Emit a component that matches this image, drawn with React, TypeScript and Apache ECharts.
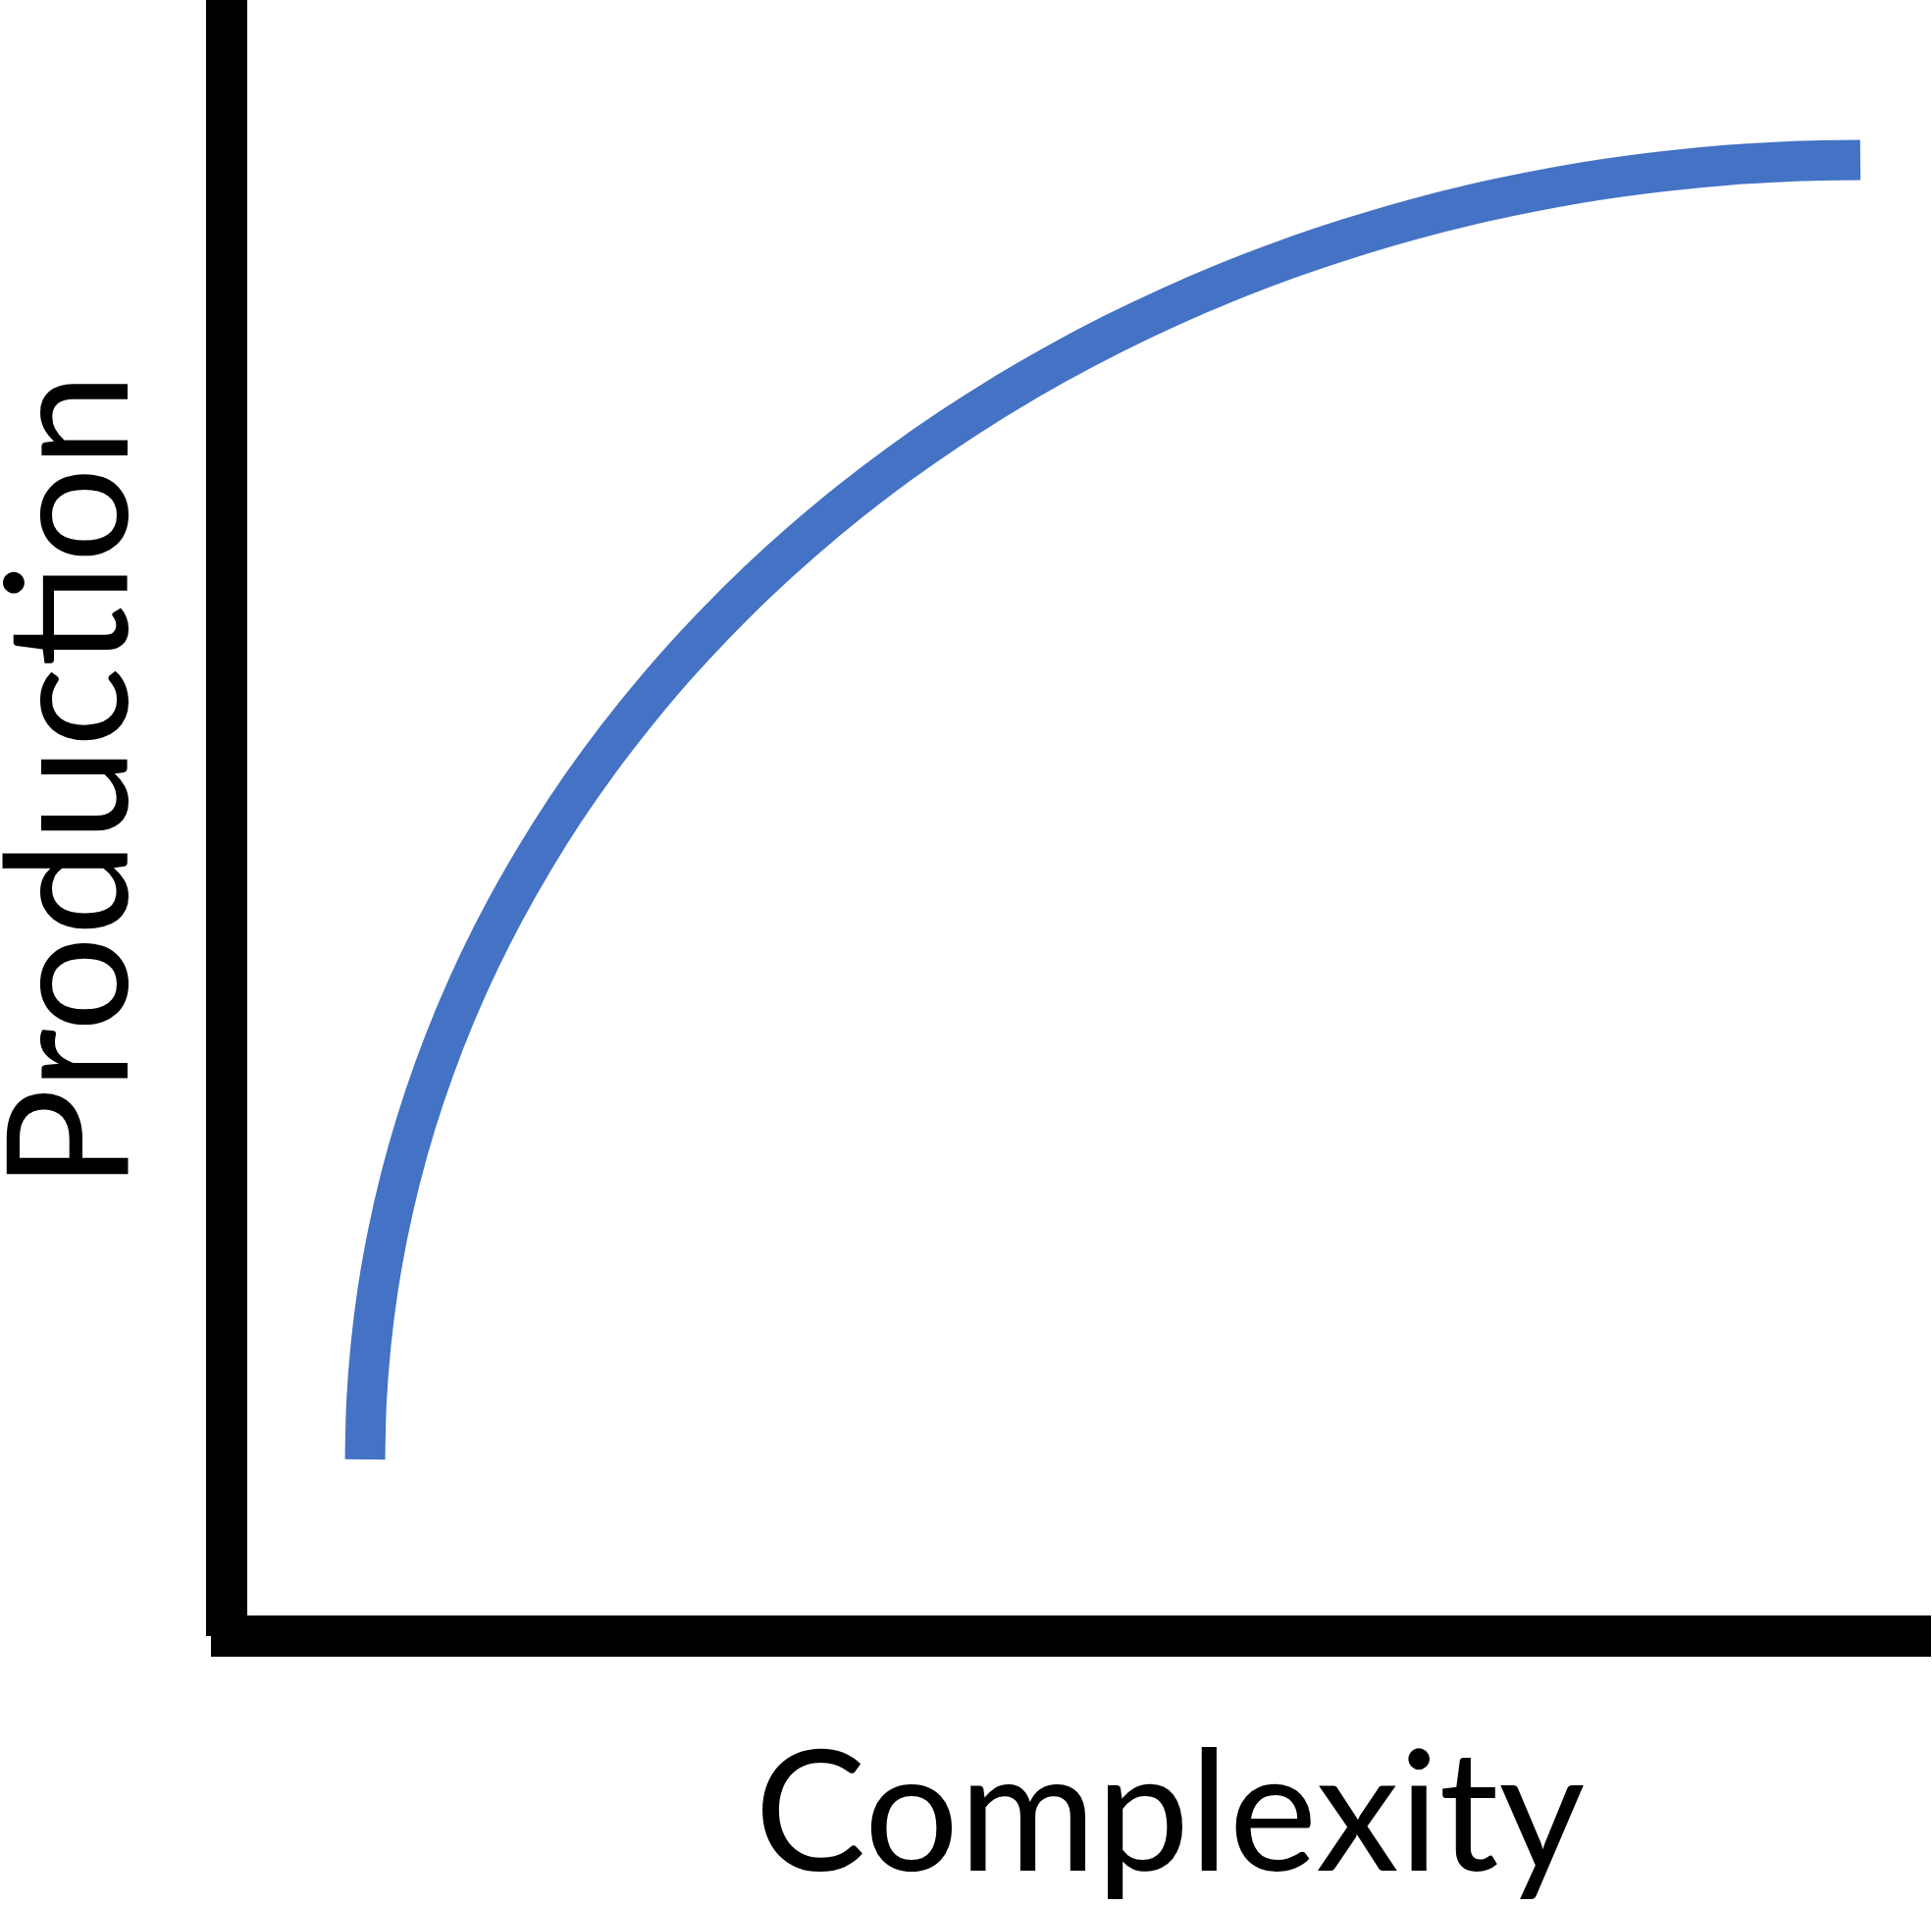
import React, { useEffect, useRef } from "react";
import * as echarts from "echarts";

// Curve (x: complexity, y: production, axis scale 0–100)
const complexity = [
  8.96, 9.04, 9.29, 9.7, 10.28, 11.02, 11.92, 12.98, 14.2, 15.57, 17.1, 18.78,
  20.6, 22.57, 24.68, 26.92, 29.3, 31.8, 34.42, 37.16, 40.01, 42.97, 46.03, 49.18,
  52.42, 55.75, 59.15, 62.62, 66.16, 69.75, 73.39, 77.08, 80.8, 84.55, 88.32, 92.1,
  95.89,
];
const production = [
  10.8, 14.26, 17.72, 21.17, 24.59, 27.99, 31.36, 34.68, 37.96, 41.19, 44.36, 47.47,
  50.51, 53.47, 56.35, 59.15, 61.85, 64.46, 66.96, 69.36, 71.64, 73.81, 75.86, 77.78,
  79.58, 81.25, 82.78, 84.18, 85.43, 86.55, 87.52, 88.34, 89.02, 89.54, 89.92, 90.15,
  90.22,
];

const xAxisName = "Complexity";
const yAxisName = "Production";

export default function App() {
  const ref = useRef<HTMLDivElement>(null);
  useEffect(() => {
    if (!ref.current) return;
    const chart = echarts.init(ref.current, null, { renderer: "svg" });
    const axisCommon = {
      type: "value" as const,
      min: 0,
      max: 100,
      axisLine: { show: true, onZero: false, lineStyle: { color: "#000", width: 42, cap: "butt" } },
      axisTick: { show: false },
      axisLabel: { show: false },
      splitLine: { show: false },
    };
    chart.setOption({
      animation: false,
      backgroundColor: "#fff",
      grid: { left: 215, right: 1, top: 0, bottom: 275, containLabel: false },
      xAxis: { ...axisCommon },
      yAxis: { ...axisCommon, offset: -16 },
      series: [
        {
          type: "line",
          data: complexity.map((x, i) => [x, production[i]]),
          showSymbol: false,
          symbol: "none",
          smooth: 0.3,
          clip: false,
          lineStyle: { color: "#4472C4", width: 41, cap: "butt", join: "round" },
        },
      ],
      graphic: [
        {
          type: "text",
          x: 1192,
          y: 1840,
          style: {
            text: xAxisName,
            fontFamily: "Lato",
            fontSize: 170,
            lineHeight: 120,
            fill: "#000",
            align: "center",
            verticalAlign: "middle",
          },
        },
        {
          type: "text",
          x: 63,
          y: 796,
          rotation: Math.PI / 2,
          style: {
            text: yAxisName,
            fontFamily: "Lato",
            fontSize: 172,
            lineHeight: 120,
            fill: "#000",
            align: "center",
            verticalAlign: "middle",
          },
        },
      ],
    });
    return () => chart.dispose();
  }, []);
  return (
    <div
      ref={ref}
      style={{ position: "absolute", left: 0, top: 0, width: 1969, height: 1942, background: "#fff" }}
    />
  );
}
